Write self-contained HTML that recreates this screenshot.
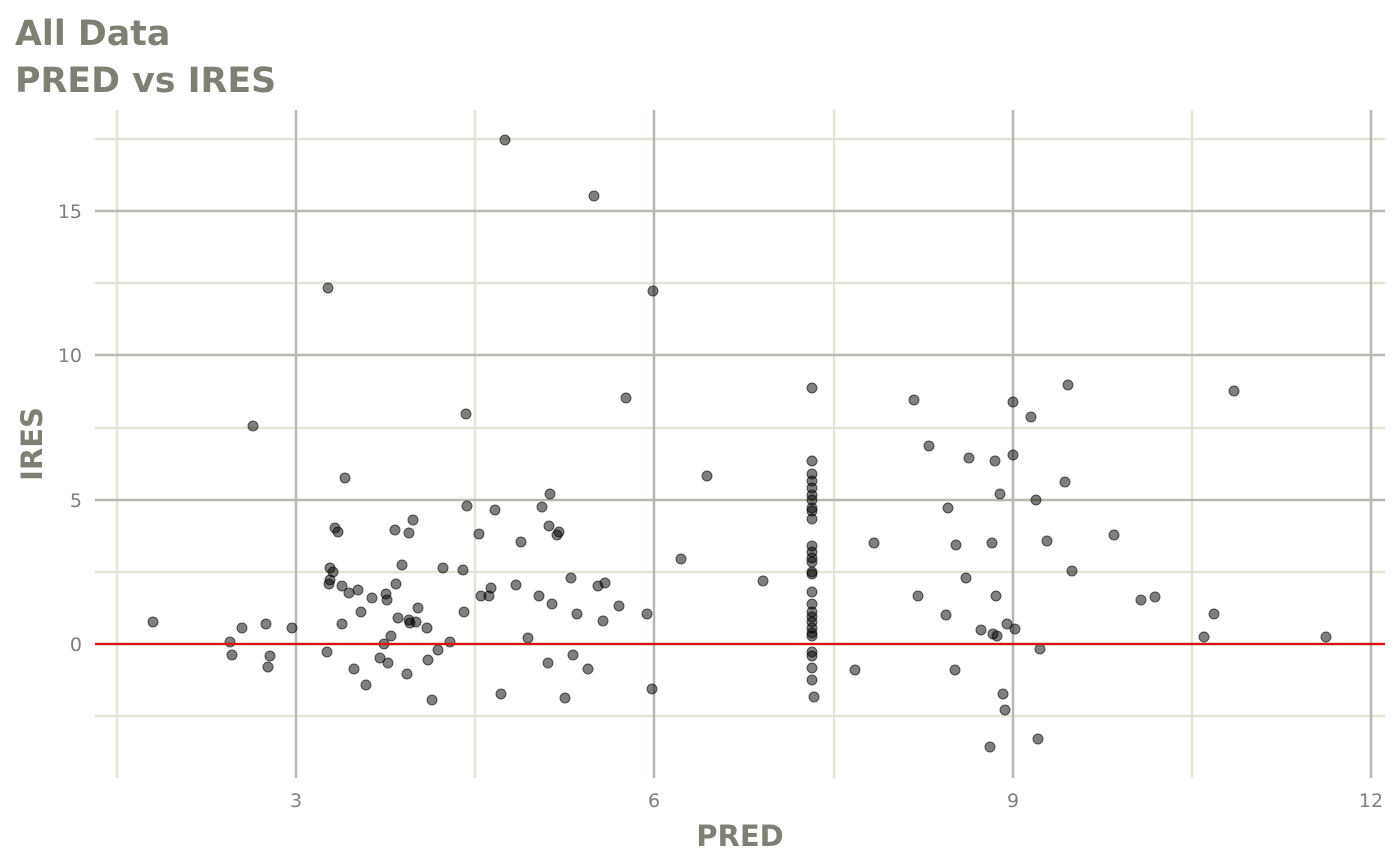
<!DOCTYPE html>
<html><head><meta charset="utf-8"><style>
html,body{margin:0;padding:0;background:#fff;}
svg{display:block;font-family:"DejaVu Sans","Liberation Sans",sans-serif;}
</style></head><body>
<svg width="1400" height="865" viewBox="0 0 1400 865" xmlns="http://www.w3.org/2000/svg">
<rect width="1400" height="865" fill="#fff"/>
<text x="15" y="45" font-size="34.8" font-weight="bold" fill="#7f7f74">All Data</text>
<text x="15" y="92" font-size="34.8" font-weight="bold" fill="#7f7f74">PRED vs IRES</text>
<g stroke="#e4e4d6" stroke-width="2.5">
<line x1="95" x2="1385" y1="716" y2="716"/><line x1="95" x2="1385" y1="572" y2="572"/>
<line x1="95" x2="1385" y1="428" y2="428"/><line x1="95" x2="1385" y1="283" y2="283"/>
<line x1="95" x2="1385" y1="139" y2="139"/>
<line x1="117" x2="117" y1="110" y2="778"/><line x1="475" x2="475" y1="110" y2="778"/>
<line x1="834" x2="834" y1="110" y2="778"/><line x1="1192" x2="1192" y1="110" y2="778"/>
</g>
<g stroke="#b8b8ae" stroke-width="2.5">
<line x1="95" x2="1385" y1="644" y2="644"/><line x1="95" x2="1385" y1="500" y2="500"/>
<line x1="95" x2="1385" y1="355" y2="355"/><line x1="95" x2="1385" y1="211" y2="211"/>
<line x1="296" x2="296" y1="110" y2="778"/><line x1="654" x2="654" y1="110" y2="778"/>
<line x1="1013" x2="1013" y1="110" y2="778"/><line x1="1371" x2="1371" y1="110" y2="778"/>
</g>
<g font-size="19" fill="#7f7f7f" text-anchor="end">
<text x="82" y="651">0</text><text x="82" y="507">5</text><text x="82" y="362">10</text><text x="82" y="218">15</text>
</g>
<g font-size="19" fill="#7f7f7f" text-anchor="middle">
<text x="296" y="807">3</text><text x="654" y="807">6</text><text x="1013" y="807">9</text><text x="1371" y="807">12</text>
</g>
<text x="740" y="846" font-size="29" font-weight="bold" fill="#7f7f74" text-anchor="middle">PRED</text>
<text transform="translate(42,444) rotate(-90)" font-size="29" font-weight="bold" fill="#7f7f74" text-anchor="middle">IRES</text>
<g fill="#000" fill-opacity="0.5" stroke="#000" stroke-opacity="0.6" stroke-width="1">
<circle cx="153" cy="622" r="5"/><circle cx="230" cy="642" r="5"/><circle cx="232" cy="655" r="5"/><circle cx="242" cy="628" r="5"/><circle cx="253" cy="426" r="5"/><circle cx="266" cy="624" r="5"/><circle cx="268" cy="667" r="5"/><circle cx="270" cy="656" r="5"/><circle cx="292" cy="628" r="5"/><circle cx="327" cy="652" r="5"/><circle cx="328" cy="288" r="5"/><circle cx="329" cy="584" r="5"/><circle cx="330" cy="568" r="5"/><circle cx="330" cy="580" r="5"/><circle cx="333" cy="572" r="5"/><circle cx="335" cy="528" r="5"/><circle cx="338" cy="532" r="5"/><circle cx="342" cy="586" r="5"/><circle cx="342" cy="624" r="5"/><circle cx="345" cy="478" r="5"/><circle cx="349" cy="593" r="5"/><circle cx="354" cy="669" r="5"/><circle cx="358" cy="590" r="5"/><circle cx="361" cy="612" r="5"/><circle cx="366" cy="685" r="5"/><circle cx="372" cy="598" r="5"/><circle cx="380" cy="658" r="5"/><circle cx="384" cy="644" r="5"/><circle cx="386" cy="594" r="5"/><circle cx="387" cy="600" r="5"/><circle cx="388" cy="663" r="5"/><circle cx="391" cy="636" r="5"/><circle cx="395" cy="530" r="5"/><circle cx="396" cy="584" r="5"/><circle cx="398" cy="618" r="5"/><circle cx="402" cy="565" r="5"/><circle cx="407" cy="674" r="5"/><circle cx="409" cy="533" r="5"/><circle cx="409" cy="620" r="5"/><circle cx="410" cy="623" r="5"/><circle cx="413" cy="520" r="5"/><circle cx="416" cy="622" r="5"/><circle cx="418" cy="608" r="5"/><circle cx="427" cy="628" r="5"/><circle cx="428" cy="660" r="5"/><circle cx="432" cy="700" r="5"/><circle cx="438" cy="650" r="5"/><circle cx="443" cy="568" r="5"/><circle cx="450" cy="642" r="5"/><circle cx="463" cy="570" r="5"/><circle cx="464" cy="612" r="5"/><circle cx="466" cy="414" r="5"/><circle cx="467" cy="506" r="5"/><circle cx="479" cy="534" r="5"/><circle cx="481" cy="596" r="5"/><circle cx="489" cy="596" r="5"/><circle cx="491" cy="588" r="5"/><circle cx="495" cy="510" r="5"/><circle cx="501" cy="694" r="5"/><circle cx="505" cy="140" r="5"/><circle cx="516" cy="585" r="5"/><circle cx="521" cy="542" r="5"/><circle cx="528" cy="638" r="5"/><circle cx="539" cy="596" r="5"/><circle cx="542" cy="507" r="5"/><circle cx="548" cy="663" r="5"/><circle cx="550" cy="494" r="5"/><circle cx="549" cy="526" r="5"/><circle cx="552" cy="604" r="5"/><circle cx="557" cy="535" r="5"/><circle cx="559" cy="532" r="5"/><circle cx="565" cy="698" r="5"/><circle cx="571" cy="578" r="5"/><circle cx="573" cy="655" r="5"/><circle cx="577" cy="614" r="5"/><circle cx="588" cy="669" r="5"/><circle cx="594" cy="196" r="5"/><circle cx="598" cy="586" r="5"/><circle cx="603" cy="621" r="5"/><circle cx="605" cy="583" r="5"/><circle cx="619" cy="606" r="5"/><circle cx="626" cy="398" r="5"/><circle cx="647" cy="614" r="5"/><circle cx="652" cy="689" r="5"/><circle cx="653" cy="291" r="5"/><circle cx="681" cy="559" r="5"/><circle cx="707" cy="476" r="5"/><circle cx="763" cy="581" r="5"/><circle cx="812" cy="388" r="5"/>
<circle cx="812" cy="461" r="5"/><circle cx="812" cy="474" r="5"/><circle cx="812" cy="481" r="5"/><circle cx="812" cy="488" r="5"/><circle cx="812" cy="495" r="5"/><circle cx="812" cy="500" r="5"/><circle cx="812" cy="508" r="5"/><circle cx="812" cy="511" r="5"/><circle cx="812" cy="519" r="5"/><circle cx="812" cy="546" r="5"/><circle cx="812" cy="552" r="5"/><circle cx="812" cy="558" r="5"/><circle cx="812" cy="562" r="5"/><circle cx="812" cy="572" r="5"/><circle cx="812" cy="574" r="5"/><circle cx="812" cy="592" r="5"/><circle cx="812" cy="604" r="5"/><circle cx="812" cy="612" r="5"/><circle cx="812" cy="617" r="5"/><circle cx="812" cy="622" r="5"/><circle cx="812" cy="628" r="5"/><circle cx="812" cy="633" r="5"/><circle cx="812" cy="636" r="5"/><circle cx="812" cy="652" r="5"/><circle cx="812" cy="656" r="5"/><circle cx="812" cy="668" r="5"/><circle cx="812" cy="680" r="5"/><circle cx="814" cy="697" r="5"/>
<circle cx="855" cy="670" r="5"/><circle cx="874" cy="543" r="5"/><circle cx="914" cy="400" r="5"/><circle cx="918" cy="596" r="5"/><circle cx="929" cy="446" r="5"/><circle cx="946" cy="615" r="5"/><circle cx="948" cy="508" r="5"/><circle cx="955" cy="670" r="5"/><circle cx="956" cy="545" r="5"/><circle cx="966" cy="578" r="5"/><circle cx="969" cy="458" r="5"/><circle cx="981" cy="630" r="5"/><circle cx="990" cy="747" r="5"/><circle cx="992" cy="543" r="5"/><circle cx="993" cy="634" r="5"/><circle cx="996" cy="596" r="5"/><circle cx="995" cy="461" r="5"/><circle cx="997" cy="636" r="5"/><circle cx="1000" cy="494" r="5"/><circle cx="1003" cy="694" r="5"/><circle cx="1005" cy="710" r="5"/><circle cx="1007" cy="624" r="5"/><circle cx="1013" cy="402" r="5"/><circle cx="1013" cy="455" r="5"/><circle cx="1015" cy="629" r="5"/><circle cx="1031" cy="417" r="5"/><circle cx="1036" cy="500" r="5"/><circle cx="1038" cy="739" r="5"/><circle cx="1040" cy="649" r="5"/><circle cx="1047" cy="541" r="5"/><circle cx="1065" cy="482" r="5"/><circle cx="1068" cy="385" r="5"/><circle cx="1072" cy="571" r="5"/><circle cx="1114" cy="535" r="5"/><circle cx="1141" cy="600" r="5"/><circle cx="1155" cy="597" r="5"/><circle cx="1204" cy="637" r="5"/><circle cx="1214" cy="614" r="5"/><circle cx="1234" cy="391" r="5"/><circle cx="1326" cy="637" r="5"/>
</g>
<line x1="95" x2="1385" y1="644" y2="644" stroke="#dd1111" stroke-width="2.2"/>
</svg>
</body></html>
